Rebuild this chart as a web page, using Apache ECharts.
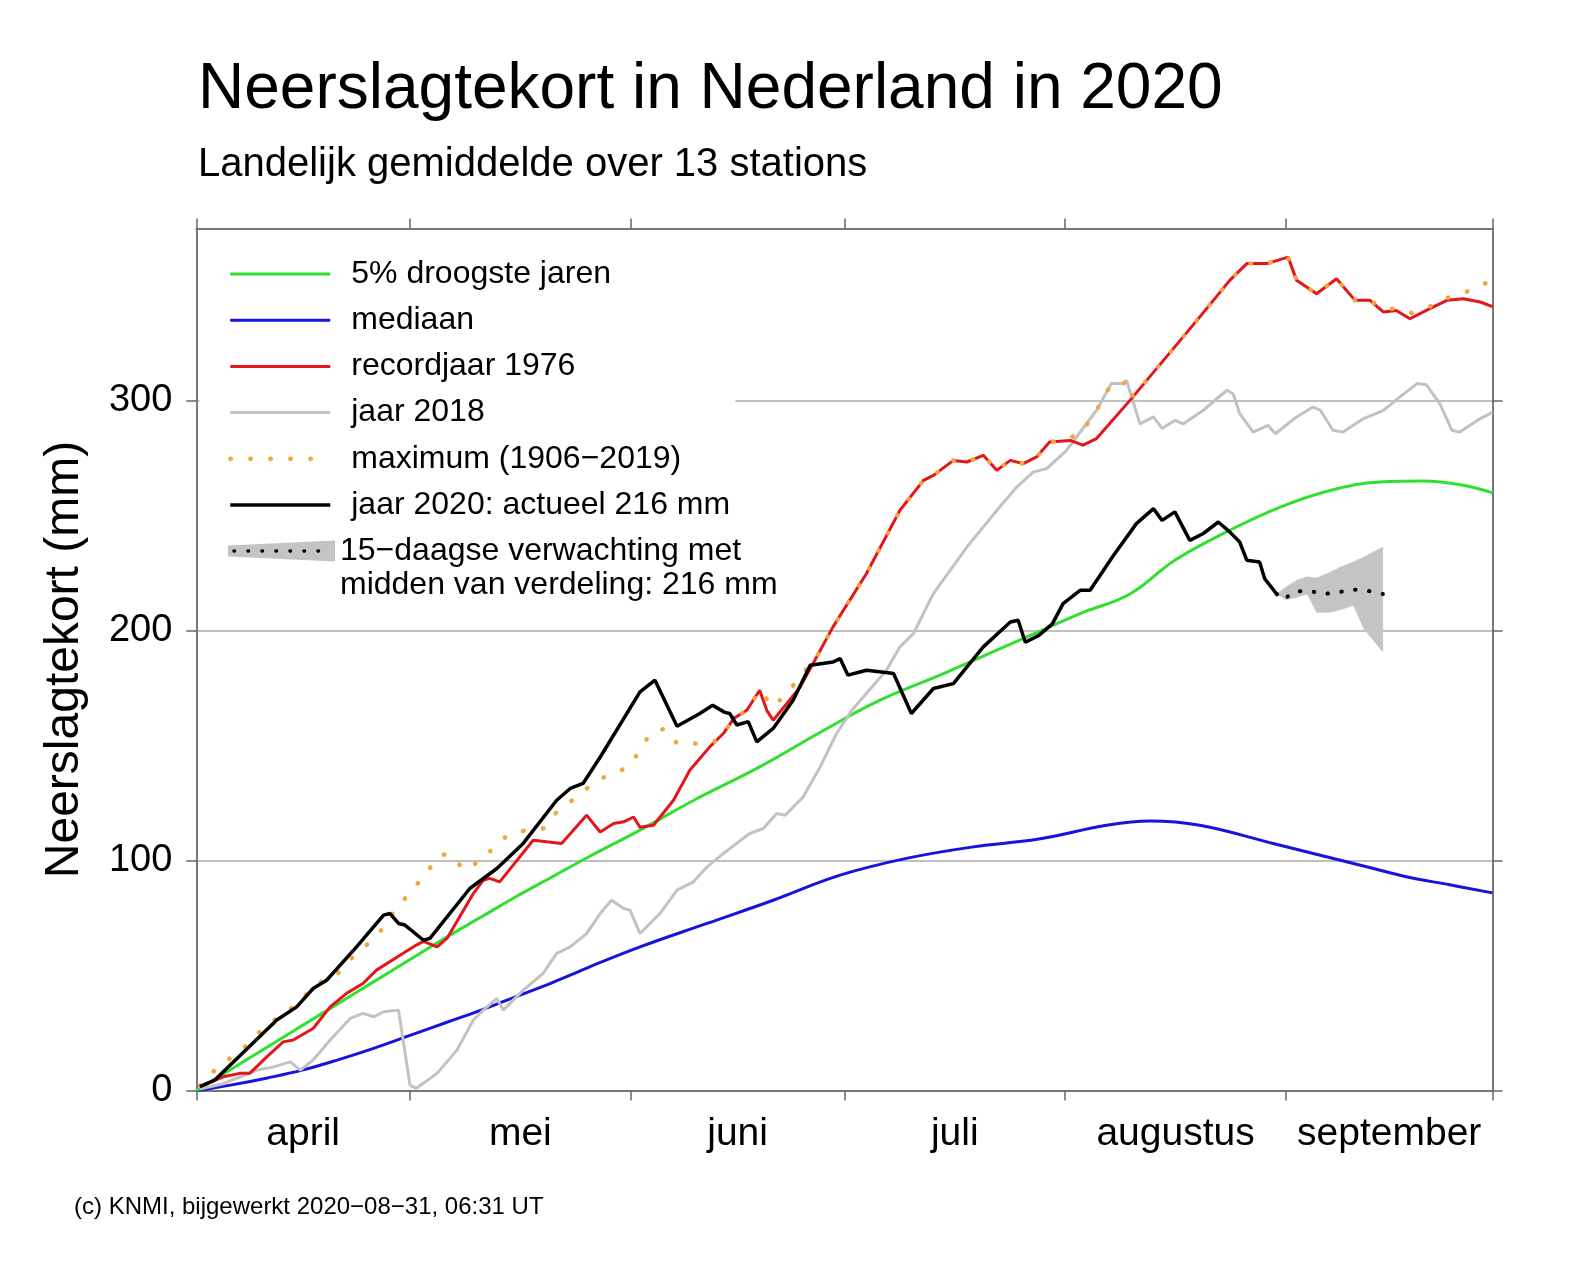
<!DOCTYPE html>
<html>
<head>
<meta charset="utf-8">
<title>Neerslagtekort in Nederland in 2020</title>
<script src="https://cdn.jsdelivr.net/npm/echarts@6/dist/echarts.min.js"></script>
<style>
  html, body { margin: 0; padding: 0; background: #fff; }
  #chart { width: 1581px; height: 1271px; }
</style>
</head>
<body>
<div id="chart"></div>
<script>
// dag 0 = 1 april, dag 182 = 30 september
const monthStarts = [0, 30, 61, 91, 122, 153, 182];
const monthMids = [15, 45.5, 76, 106.5, 137.5, 167.5];
const monthNames = ['april', 'mei', 'juni', 'juli', 'augustus', 'september'];
const yTicks = [0, 100, 200, 300];

// [dag, neerslagtekort mm]
const droogste5 = [[0,0],[5,9.5],[10,19],[15,28.5],[20,38],[25,47.5],[30,57],[35,66.5],[40,75.5],
  [45,84.5],[50,93],[55,101.5],[62.3,113.3],[70,126.5],[79.1,140.8],[88,156.5],[96,169.8],
  [105,181.5],[112,191],[117.1,198],[124.1,207.5],[131.1,216],[137.4,230.7],[145.1,243.7],
  [152.2,253.8],[159.2,261],[166.2,264.7],[172.3,265.1],[177.9,263.3],[182,260]];

const mediaan = [[0,0],[5,2.5],[10,5.5],[15,9],[20,13.5],[25,18.5],[30,24],[35,29.5],[40,35],
  [45,41],[50,47],[55,53.5],[62.3,62.5],[71.7,72.7],[81,82.8],[90.4,93.7],[99.7,101],[109.1,106],
  [118.5,109.5],[127.8,115.4],[133.9,117.3],[140.9,115.4],[151.2,107.5],[165.3,96.6],[169.9,93],
  [176,89.5],[182,86]];

const record1976 = [[0.5,1.7],[3.8,6],[6.1,7.5],[7.5,7.5],[9.9,14.7],[12.2,21.2],[13.6,22],[16.4,27],
  [18.8,36.4],[21.1,42.3],[23.4,46.6],[25.3,52.4],[28.6,58.9],[30.9,63.3],[31.9,64.9],[33.8,62.5],
  [35.2,66.2],[38.9,85.7],[40.3,91.5],[41.2,92.3],[42.6,90.8],[47.3,108.9],[49.2,108.2],[51.3,107.5],
  [54.8,119.8],[56.7,112.5],[58.6,116.2],[60,116.9],[61.4,119],[62.3,114.5],[64.2,115.4],[67,126.3],
  [69.3,139.3],[72.1,149.5],[74,155.3],[75.5,162],[77.3,165.4],[79.1,174.1],[80.1,165.4],[81,161.1],
  [84.8,175.6],[87.1,188.6],[89.4,201.7],[94.1,224.9],[98.8,252.4],[102.1,265.4],[103.5,267.6],
  [106.3,274.1],[108.2,273.4],[110.5,276.3],[112.4,269.8],[114.3,274.1],[116.1,272.7],[118,275.6],
  [119.8,282.1],[122.7,282.8],[124.5,280.7],[126.4,283.6],[131.1,300.2],[135.8,317.6],[140.5,335],
  [145.1,352.4],[147.5,359.7],[150.3,359.7],[153.3,362.5],[154.5,352.4],[157.3,346.6],[160.1,353.1],
  [162.7,343.7],[164.8,343.7],[166.7,338.6],[168.5,339.3],[170.4,335.7],[173.2,340.1],[175.6,343.7],
  [177.9,344.4],[180.3,343],[182,341]];

const jaar2018 = [[0.5,0.7],[3.8,3],[8.5,8.9],[10.8,10.3],[13.2,12.5],[14.6,8.9],[16.4,13.3],[18.8,22],
  [21.6,31.4],[23.4,33.6],[24.9,32.1],[26.3,34.3],[28.4,35],[30,2.4],[30.9,1],[33.8,7.5],[36.6,17.6],
  [38.9,30.7],[40.3,35],[42.2,40.1],[43.1,35],[45.9,43.7],[48.7,51],[50.6,59.7],[52.5,62.5],[54.8,68.3],
  [56.7,77],[58.3,82.8],[60,79.2],[60.9,78.5],[62.3,68.3],[65.1,77],[67.5,87.2],[69.8,90.8],[71.7,97.3],
  [74,103.1],[77.7,111.8],[79.6,114],[81.5,120.5],[82.7,119.8],[85.2,127.7],[87.6,140.8],[89.9,155.3],
  [92.2,166],[96.9,182.8],[98.8,193],[100.7,198.8],[103.5,216.2],[108.2,236.4],[112.8,253.8],
  [115.2,262.5],[117.5,269],[119.4,270.5],[122.2,278.5],[126.4,295.9],[128.5,307.5],[130.2,307.5],
  [130.6,309],[132.5,290],[134.4,293],[135.6,288],[137.4,291.5],[138.6,290],[141.4,295.9],[144.7,304.6],
  [145.6,303],[146.5,294.4],[148.4,286.4],[150.5,289.3],[151.5,285.7],[154.5,293],[156.8,297.3],
  [157.8,296],[159.6,287.2],[161,286.4],[163.9,292.3],[166.7,295.9],[169,301.7],[171.4,307.5],
  [172.7,307],[174.6,298.8],[176.3,287.2],[177.4,286.4],[180.3,292.3],[182,295]];

const maximum = [[0.5,2],[2.6,8.9],[7.1,19.8],[8.9,25.6],[11.3,31.5],[14.1,37.5],[16.4,45],[18.3,49],
  [19.9,51],[21.8,57.5],[23.9,63.3],[25.8,69],[27.3,76],[29.1,82.8],[30.9,89.3],[32.6,96.2],[34.5,102.8],
  [36.1,102],[37.5,95.9],[40.1,100.2],[41.9,106.3],[44,111.8],[46,113],[48.7,114],[50.6,121.2],
  [52.5,125.6],[54.3,130],[56.2,135],[58.6,137.9],[60.7,140.8],[62.3,148],[63.7,155.3],[65.8,157.5],
  [67.5,151],[69.3,151],[71.4,151],[72.4,151],[74,155.3],[75.5,162],[77.3,165.4],[79.1,174.1],
  [81,166.9],[82.9,172.7],[84.8,180],[87.1,188.6],[89.4,201.7],[94.1,224.9],[98.8,252.4],[102.1,265.4],
  [103.5,267.6],[106.3,274.1],[108.2,273.4],[110.5,276.3],[112.4,269.8],[114.3,274.1],[116.1,272.7],
  [118,275.6],[119.8,282.1],[122.2,283],[124.5,287],[126.4,295.9],[128.5,307.5],[130.2,307.5],
  [130.6,309],[131.5,302],[135.8,317.6],[140.5,335],[145.1,352.4],[147.5,359.7],[150.3,359.7],
  [153.3,362.5],[154.5,352.4],[157.3,346.6],[160.1,353.1],[162.7,343.7],[164.8,343.7],[166.7,340],
  [168.5,340],[170.4,338],[173.2,341],[175.2,344.4],[177.9,346.6],[180,350.2],[182,352]];

const jaar2020 = [[0.5,1.7],[2.6,4.6],[11.3,30.7],[14.1,36.4],[16.4,44.4],[18.3,48],[22.5,62.5],
  [23.9,67.6],[26.3,76.3],[27.2,77],[28.4,72.7],[29.3,72],[31.9,65.4],[32.8,66.2],[38.4,87.9],
  [42.2,96.6],[45.9,107.5],[50.6,126.3],[52.5,131.4],[54.3,133.6],[56.7,145],[62.3,173.4],[64.4,178.5],
  [67.5,158.5],[70.7,164],[72.5,167.6],[74.2,164.5],[74.9,164],[75.9,159],[77.5,160.5],[78.7,151.7],
  [81,157.5],[83.8,169.8],[86.2,185],[89.4,186.4],[90.4,187.9],[91.5,180.7],[94.1,182.8],[96.5,182],
  [97.9,181.4],[100.4,164],[103.5,174.9],[106.3,177],[110.5,193],[114.3,203.8],[115.4,204.6],
  [116.4,195],[118.3,198],[120.2,203],[121.7,211.8],[124.1,217.6],[125.5,217.6],[128.8,232.8],
  [132,246.6],[134.4,253.1],[135.6,248],[137.4,251.7],[139.5,239.3],[141.4,242.3],[143.5,247.3],
  [145.1,243],[146.5,238.6],[147.5,230.7],[149.3,229.9],[150,222.7],[151.7,216]];

// 15-daagse verwachting
const fcDays = [151.7, 153, 154.5, 156, 157.3, 159.2, 160.5, 162.5, 163.9, 166.6];
const fcLow  = [216, 213.5, 214.5, 216, 208, 208, 209, 211, 201, 190.8];
const fcHigh = [216, 219, 222, 223.5, 223, 225.5, 227.5, 230, 232, 236.4];
const fcMidden = [[151.7,216],[152.6,213.5],[154.2,217],[156.1,217.5],[158.2,216],[160.1,216.5],
  [162.2,218],[164.3,217.5],[166.6,216]];

const FONT = 'Liberation Sans';
const bandName = '15\u2212daagse verwachting met\nmidden van verdeling: 216 mm';

const chart = echarts.init(document.getElementById('chart'));

function renderBand(params, api) {
  // whole band polygon drawn once: lower edge forward, upper edge back
  if (params.dataIndex !== 0) return null;
  const pts = [];
  for (let i = 0; i < fcDays.length; i++) pts.push(api.coord([fcDays[i], fcLow[i]]));
  for (let i = fcDays.length - 1; i >= 0; i--) pts.push(api.coord([fcDays[i], fcHigh[i]]));
  return {
    type: 'polygon',
    shape: { points: pts },
    style: { fill: '#c4c4c4', stroke: '#c4c4c4', lineWidth: 0.5 }
  };
}

const option = {
  animation: false,
  textStyle: { fontFamily: FONT, color: '#000' },
  title: [
    {
      text: 'Neerslagtekort in Nederland in 2020',
      subtext: 'Landelijk gemiddelde over 13 stations',
      left: 193, top: 53, itemGap: 23,
      textStyle: { fontFamily: FONT, fontSize: 64, fontWeight: 'normal', color: '#000' },
      subtextStyle: { fontFamily: FONT, fontSize: 40, color: '#000' }
    },
    {
      text: '(c) KNMI, bijgewerkt 2020\u221208\u221231, 06:31 UT',
      left: 69, top: 1190,
      textStyle: { fontFamily: FONT, fontSize: 24, fontWeight: 'normal', color: '#000' }
    }
  ],
  grid: { left: 196.3, right: 88.5, top: 228.4, bottom: 180.4 },
  legend: [
    {
      data: [
        { name: '5% droogste jaren' },
        { name: 'mediaan' },
        { name: 'recordjaar 1976' },
        { name: 'jaar 2018' },
        { name: 'maximum (1906\u22122019)', lineStyle: { width: 4.5 } },
        { name: 'jaar 2020: actueel 216 mm', lineStyle: { width: 3.5 } }
      ],
      orient: 'vertical', left: 228, top: 258, padding: 0,
      itemWidth: 100, itemHeight: 14, itemGap: 14.2,
      selectedMode: false,
      itemStyle: { opacity: 0 },
      lineStyle: { width: 3 },
      textStyle: { fontFamily: FONT, fontSize: 32, lineHeight: 32, color: '#000', padding: [0, 0, 0, 16] }
    },
    {
      data: [{ name: bandName, icon: 'path://M0,5L107,0L107,21L0,16Z' }],
      orient: 'vertical', left: 228, top: 500, padding: 0,
      itemWidth: 107, itemHeight: 21,
      selectedMode: false,
      // empty first line so that the first text line sits level with the icon
      formatter: n => ' \n' + n,
      itemStyle: { color: '#c4c4c4', opacity: 1, borderWidth: 0 },
      textStyle: { fontFamily: FONT, fontSize: 32, lineHeight: 34, color: '#000' }
    }
  ],
  graphic: [
    { type: 'rect', z: 1, shape: { x: 199.5, y: 231.5, width: 536, height: 372 }, style: { fill: '#fff' } },
    { type: 'line', z: 10, shape: { x1: 234, y1: 551, x2: 332, y2: 551 },
      style: { stroke: '#000', lineWidth: 3.5, lineDash: [0.5, 13.5], lineCap: 'round' } }
  ],
  xAxis: [
    {
      type: 'value', min: 0, max: 182, position: 'bottom',
      axisLine: { show: true, onZero: false, lineStyle: { color: '#777', width: 2 } },
      axisTick: { show: true, customValues: monthStarts, length: 10, lineStyle: { color: '#666', width: 1.5 } },
      axisLabel: {
        customValues: monthMids, margin: 24, fontSize: 39, fontFamily: FONT, color: '#000',
        formatter: v => monthNames[monthMids.indexOf(v)]
      },
      splitLine: { show: false }
    },
    {
      type: 'value', min: 0, max: 182, position: 'top',
      axisLine: { show: true, onZero: false, lineStyle: { color: '#777', width: 2 } },
      axisTick: { show: true, customValues: monthStarts, length: 10, lineStyle: { color: '#666', width: 1.5 } },
      axisLabel: { show: false },
      splitLine: { show: false }
    }
  ],
  yAxis: [
    {
      type: 'value', min: 0, max: 375, interval: 100, position: 'left',
      name: 'Neerslagtekort (mm)', nameLocation: 'middle', nameGap: 108, nameRotate: 90,
      nameTextStyle: { fontFamily: FONT, fontSize: 48, color: '#000' },
      axisLine: { show: true, onZero: false, lineStyle: { color: '#777', width: 2 } },
      axisTick: { show: true, customValues: yTicks, length: 10, lineStyle: { color: '#666', width: 1.5 } },
      axisLabel: { customValues: yTicks, margin: 24, fontSize: 38, fontFamily: FONT, color: '#000' },
      splitLine: { show: true, lineStyle: { color: '#aaa', width: 1.5 } }
    },
    {
      type: 'value', min: 0, max: 375, interval: 100, position: 'right',
      axisLine: { show: true, onZero: false, lineStyle: { color: '#777', width: 2 } },
      axisTick: { show: true, customValues: yTicks, length: 10, lineStyle: { color: '#666', width: 1.5 } },
      axisLabel: { show: false },
      splitLine: { show: false }
    }
  ],
  series: [
    {
      name: 'mediaan', type: 'line', data: mediaan, smooth: 0.4, symbol: 'none', z: 3,
      itemStyle: { color: '#1414dc' }, lineStyle: { color: '#1414dc', width: 3 }
    },
    {
      name: '5% droogste jaren', type: 'line', data: droogste5, smooth: 0.4, symbol: 'none', z: 3,
      itemStyle: { color: '#30e030' }, lineStyle: { color: '#30e030', width: 3 }
    },
    {
      name: 'jaar 2018', type: 'line', data: jaar2018, symbol: 'none', z: 3,
      itemStyle: { color: '#c2c2c2' }, lineStyle: { color: '#c2c2c2', width: 3 }
    },
    {
      name: 'recordjaar 1976', type: 'line', data: record1976, symbol: 'none', z: 4,
      itemStyle: { color: '#e3161b' }, lineStyle: { color: '#e3161b', width: 3 }
    },
    {
      name: 'maximum (1906\u22122019)', type: 'line', data: maximum, symbol: 'none', z: 5,
      itemStyle: { color: '#f5a442' },
      lineStyle: { color: '#f5a442', width: 4.5, type: [0.5, 19.5], cap: 'round' }
    },
    {
      name: bandName, type: 'custom', z: 5, silent: true,
      data: fcDays.map((d, i) => [d, fcLow[i], fcHigh[i]]),
      encode: { x: 0, y: [1, 2] },
      itemStyle: { color: '#c4c4c4' },
      renderItem: renderBand
    },
    {
      name: 'verwachting midden', type: 'line', data: fcMidden, symbol: 'none', z: 6,
      lineStyle: { color: '#000', width: 4, type: [0.5, 13.5], cap: 'round' }
    },
    {
      name: 'jaar 2020: actueel 216 mm', type: 'line', data: jaar2020, symbol: 'none', z: 7,
      itemStyle: { color: '#000' }, lineStyle: { color: '#000', width: 3.5 }
    }
  ]
};

chart.setOption(option);
</script>
</body>
</html>
